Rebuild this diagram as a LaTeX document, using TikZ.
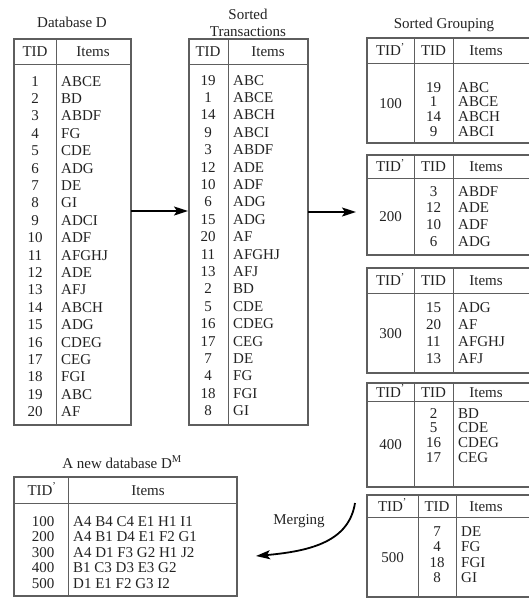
\documentclass[tikz,border=0pt]{standalone}
\usepackage{fontspec}
\setmainfont{Liberation Serif}
\usepackage{tikz}
\usetikzlibrary{arrows.meta}
\definecolor{rulegray}{HTML}{5E5E5E}
\definecolor{inkgray}{HTML}{222222}
\tikzset{
  tbl/.style={draw=rulegray, line width=1.2pt},
  sep/.style={draw=rulegray, line width=0.8pt},
  txt/.style={text=inkgray, font=\fontsize{15}{17}\selectfont, inner sep=0pt,
    text height=10pt, text depth=0pt},
  itm/.style={txt, anchor=west},
  flow/.style={draw=black, line width=1.8pt, -{Stealth[length=14pt,width=9pt,inset=3pt]}},
}

\begin{document}
\begin{tikzpicture}[x=1pt,y=-1pt]
  \useasboundingbox (0,0) rectangle (529,598);

  % database D
  \node[txt] (dbTitle) at (72,22) {Database D};
  \draw[tbl] (14,39) rectangle (131,425);
  \draw[sep] (14,64) -- (131,64) (56,39) -- (56,425);
  \node[txt] (dbTid) at (35,51) {TID};
  \node[txt] (dbItems) at (93,51) {Items};
  \foreach \tid/\itm [count=\k from 0] in {1/ABCE,2/BD,3/ABDF,4/FG,5/CDE,6/ADG,7/DE,8/GI,9/ADCI,10/ADF,
      11/AFGHJ,12/ADE,13/AFJ,14/ABCH,15/ADG,16/CDEG,17/CEG,18/FGI,19/ABC,20/AF} {
    \node[txt] (dbN\k) at (35,81+17.4*\k) {\tid};
    \node[itm] (dbI\k) at (61,81+17.4*\k) {\itm};
  }

  % sorted transactions
  \node[txt] (stTitleA) at (248,14) {Sorted};
  \node[txt] (stTitleB) at (248,31) {Transactions};
  \draw[tbl] (189,39) rectangle (308,425);
  \draw[sep] (189,64) -- (308,64) (228,39) -- (228,425);
  \node[txt] (stTid) at (208,51) {TID};
  \node[txt] (stItems) at (268,51) {Items};
  \foreach \tid/\itm [count=\k from 0] in {19/ABC,1/ABCE,14/ABCH,9/ABCI,3/ABDF,12/ADE,10/ADF,6/ADG,15/ADG,20/AF,
      11/AFGHJ,13/AFJ,2/BD,5/CDE,16/CDEG,17/CEG,7/DE,4/FG,18/FGI,8/GI} {
    \node[txt] (stN\k) at (208,80+17.4*\k) {\tid};
    \node[itm] (stI\k) at (233,80+17.4*\k) {\itm};
  }

  % sorted grouping
  \node[txt] (grTitle) at (444,23) {Sorted Grouping};
  \foreach \g/\ta/\hb/\bt/\da/\db/\fy/\dy/\rows in {
      100/38/63/143/414/453/87/14.8/{19/ABC,1/ABCE,14/ABCH,9/ABCI},
      200/155/178/255/414/453/191/16.8/{3/ABDF,12/ADE,10/ADF,6/ADG},
      300/268/293/373/414/453/307/17/{15/ADG,20/AF,11/AFGHJ,13/AFJ},
      400/383/401/487/414/453/413/14.8/{2/BD,5/CDE,16/CDEG,17/CEG},
      500/495/517/597/418/456/531/15.6/{7/DE,4/FG,18/FGI,8/GI}} {
    \draw[tbl] (529,\ta) -- (367,\ta) -- (367,\bt) -- (529,\bt);
    \draw[sep] (367,\hb) -- (529,\hb) (\da,\ta) -- (\da,\bt) (\db,\ta) -- (\db,\bt);
    \node[txt] (g\g h) at ({(367+\da)/2},{(\ta+\hb)/2}) {TID\textsuperscript{'}};
    \node[txt] (g\g t) at ({(\da+\db)/2},{(\ta+\hb)/2}) {TID};
    \node[txt] (g\g i) at (486,{(\ta+\hb)/2}) {Items};
    \node[txt] (g\g) at ({(367+\da)/2},{(\hb+\bt)/2}) {\g};
    \foreach \tid/\itm [count=\k from 0] in \rows {
      \node[txt] (g\g n\k) at ({(\da+\db)/2},\fy+\dy*\k) {\tid};
      \node[itm] (g\g r\k) at (\db+5,\fy+\dy*\k) {\itm};
    }
  }

  % new database
  \node[txt] (dmTitle) at (122,463) {A new database D\textsuperscript{M}};
  \draw[tbl] (14,477) rectangle (237,596);
  \draw[sep] (14,503) -- (237,503) (68,477) -- (68,596);
  \node[txt] (dmTid) at (42,490) {TID\textsuperscript{'}};
  \node[txt] (dmItems) at (148,490) {Items};
  \foreach \g/\itm [count=\k from 0] in {100/A4 B4 C4 E1 H1 I1,200/A4 B1 D4 E1 F2 G1,
      300/A4 D1 F3 G2 H1 J2,400/B1 C3 D3 E3 G2,500/D1 E1 F2 G3 I2} {
    \node[txt] (dmN\k) at (43,521+15.5*\k) {\g};
    \node[itm] (dmI\k) at (73,521+15.5*\k) {\itm};
  }

  % arrows
  \coordinate (dbE) at (131,211);
  \coordinate (stW) at (188,211);
  \coordinate (stE) at (308,212);
  \coordinate (grW) at (356,212);
  \coordinate (grS) at (355,503);
  \coordinate (dmE) at (256,556);
  \draw[flow] (dbE) -- (stW);
  \draw[flow] (stE) -- (grW);
  \draw[flow] (grS) .. controls (349,541) and (312,551) .. (dmE);
  \node[txt] (merge) at (299,519) {Merging};
\end{tikzpicture}
\end{document}
